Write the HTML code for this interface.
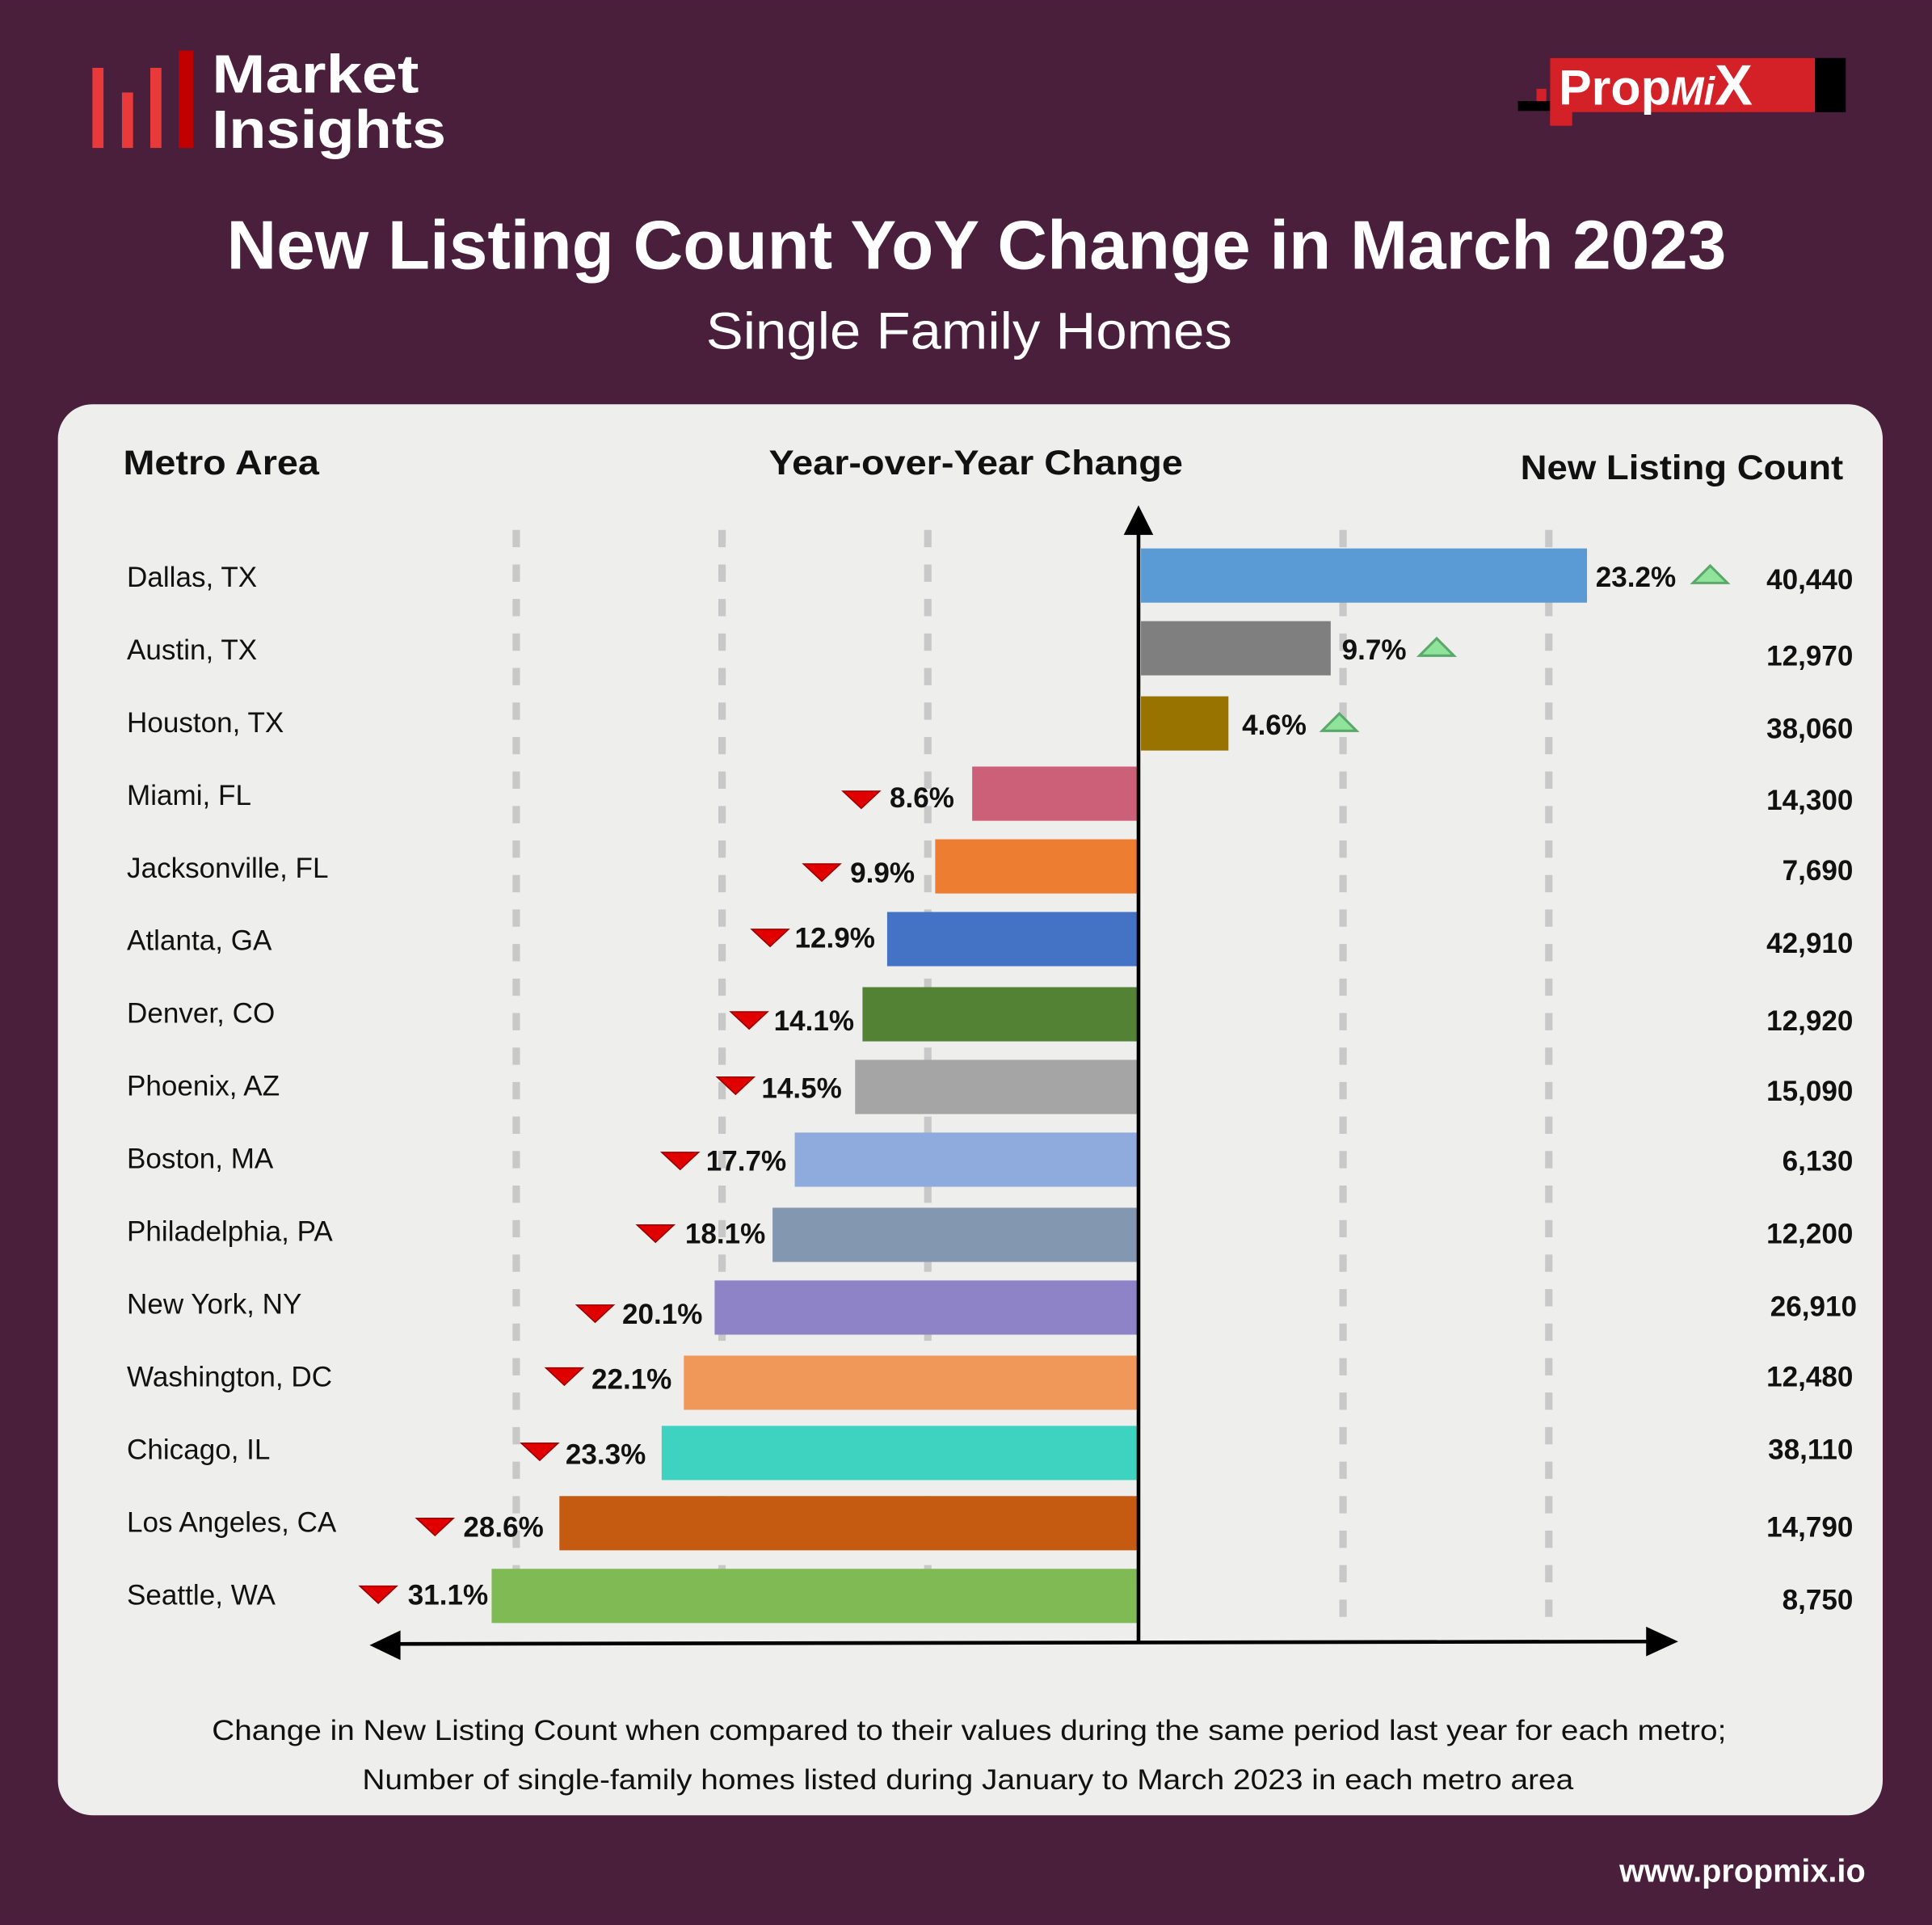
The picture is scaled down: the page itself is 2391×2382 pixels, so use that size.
<!DOCTYPE html>
<html><head><meta charset="utf-8"><style>
html,body{margin:0;padding:0;background:#4a1f3c;}
svg{display:block;}
text{font-family:"Liberation Sans","DejaVu Sans",sans-serif;}
</style></head><body>
<svg width="2391" height="2382" viewBox="0 0 1568 1562" xmlns="http://www.w3.org/2000/svg">
<rect width="1568" height="1562" fill="#4a1f3c"/>
<!-- logo -->
<rect x="75" y="55" width="9" height="65" fill="#e83a3a"/>
<rect x="99" y="75" width="9" height="45" fill="#e83a3a"/>
<rect x="122" y="55" width="9" height="65" fill="#e83a3a"/>
<rect x="145" y="41" width="12" height="79" fill="#c00000"/>
<text x="172" y="75" font-size="44" fill="#fff" font-weight="600" textLength="168" lengthAdjust="spacingAndGlyphs">Market</text>
<text x="172" y="120" font-size="44" fill="#fff" font-weight="600" textLength="190" lengthAdjust="spacingAndGlyphs">Insights</text>
<!-- propmix -->
<rect x="1232" y="82" width="30" height="8" fill="#000"/>
<rect x="1258" y="47" width="240" height="44" fill="#000"/>
<rect x="1258" y="47" width="215" height="44" fill="#d42027"/>
<rect x="1258" y="90" width="18" height="12" fill="#d42027"/>
<rect x="1247" y="72" width="8" height="10" fill="#d42027"/>
<text x="1265" y="85" font-size="40" fill="#fff" font-weight="bold">Prop<tspan font-style="italic" font-size="32">Mi</tspan><tspan font-size="46">X</tspan></text>
<!-- titles -->
<text x="184" y="218" font-size="56" fill="#fff" font-weight="bold" textLength="1217" lengthAdjust="spacingAndGlyphs">New Listing Count YoY Change in March 2023</text>
<text x="573" y="283" font-size="42" fill="#fff" textLength="427" lengthAdjust="spacingAndGlyphs">Single Family Homes</text>
<!-- card -->
<rect x="47" y="328" width="1481" height="1145" rx="28" fill="#eeeeed"/>
<text x="100" y="385" font-size="28" font-weight="bold" fill="#111" textLength="159" lengthAdjust="spacingAndGlyphs">Metro Area</text>
<text x="624" y="385" font-size="28" font-weight="bold" fill="#111" textLength="336" lengthAdjust="spacingAndGlyphs">Year-over-Year Change</text>
<text x="1234" y="389" font-size="28" font-weight="bold" fill="#111" textLength="262" lengthAdjust="spacingAndGlyphs">New Listing Count</text>
<!-- gridlines -->
<g stroke="#c8c8c8" stroke-width="6" stroke-dasharray="14 14">
<line x1="419" y1="430" x2="419" y2="1325"/>
<line x1="586" y1="430" x2="586" y2="1325"/>
<line x1="753" y1="430" x2="753" y2="1325"/>
<line x1="1090" y1="430" x2="1090" y2="1325"/>
<line x1="1257" y1="430" x2="1257" y2="1325"/>
</g>
<!-- bars -->
<rect x="926" y="445" width="362" height="44" fill="#5b9bd5"/>
<rect x="926" y="504" width="154" height="44" fill="#7f7f7f"/>
<rect x="926" y="565" width="71" height="44" fill="#997300"/>
<rect x="789" y="622" width="135" height="44" fill="#cc6079"/>
<rect x="759" y="681" width="165" height="44" fill="#ed7d31"/>
<rect x="720" y="740" width="204" height="44" fill="#4472c4"/>
<rect x="700" y="801" width="224" height="44" fill="#548235"/>
<rect x="694" y="860" width="230" height="44" fill="#a5a5a5"/>
<rect x="645" y="919" width="279" height="44" fill="#8faadc"/>
<rect x="627" y="980" width="297" height="44" fill="#8497b0"/>
<rect x="580" y="1039" width="344" height="44" fill="#8e83c6"/>
<rect x="555" y="1100" width="369" height="44" fill="#f0985a"/>
<rect x="537" y="1157" width="387" height="44" fill="#3ed3c0"/>
<rect x="454" y="1214" width="470" height="44" fill="#c55a11"/>
<rect x="399" y="1273" width="525" height="44" fill="#7fba55"/>
<!-- axes -->
<line x1="924" y1="428" x2="924" y2="1334" stroke="#000" stroke-width="3"/>
<polygon points="924,410 912,434 936,434" fill="#000"/>
<line x1="320" y1="1334" x2="1340" y2="1332" stroke="#000" stroke-width="3"/>
<polygon points="300,1335 325,1323 325,1347" fill="#000"/>
<polygon points="1362,1332 1336,1320 1336,1344" fill="#000"/>
<!-- metro labels -->
<g font-size="23" fill="#111">
<text x="103" y="476">Dallas, TX</text>
<text x="103" y="535">Austin, TX</text>
<text x="103" y="594">Houston, TX</text>
<text x="103" y="653">Miami, FL</text>
<text x="103" y="712">Jacksonville, FL</text>
<text x="103" y="771">Atlanta, GA</text>
<text x="103" y="830">Denver, CO</text>
<text x="103" y="889">Phoenix, AZ</text>
<text x="103" y="948">Boston, MA</text>
<text x="103" y="1007">Philadelphia, PA</text>
<text x="103" y="1066">New York, NY</text>
<text x="103" y="1125">Washington, DC</text>
<text x="103" y="1184">Chicago, IL</text>
<text x="103" y="1243">Los Angeles, CA</text>
<text x="103" y="1302">Seattle, WA</text>
</g>
<!-- counts -->
<g font-size="23" font-weight="bold" fill="#111" text-anchor="end">
<text x="1504" y="478">40,440</text>
<text x="1504" y="540">12,970</text>
<text x="1504" y="599">38,060</text>
<text x="1504" y="657">14,300</text>
<text x="1504" y="714">7,690</text>
<text x="1504" y="773">42,910</text>
<text x="1504" y="836">12,920</text>
<text x="1504" y="893">15,090</text>
<text x="1504" y="950">6,130</text>
<text x="1504" y="1009">12,200</text>
<text x="1507" y="1068">26,910</text>
<text x="1504" y="1125">12,480</text>
<text x="1504" y="1184">38,110</text>
<text x="1504" y="1247">14,790</text>
<text x="1504" y="1306">8,750</text>
</g>
<!-- pct positive -->
<g font-size="23" font-weight="bold" fill="#111">
<text x="1295" y="476">23.2%</text>
<text x="1089" y="535">9.7%</text>
<text x="1008" y="596">4.6%</text>
</g>
<g fill="#8fe39a" stroke="#5aa86a" stroke-width="2">
<polygon points="1388,459 1374,473 1402,473"/>
<polygon points="1166,518 1152,532 1180,532"/>
<polygon points="1087,579 1073,593 1101,593"/>
</g>
<!-- pct negative -->
<g font-size="23" font-weight="bold" fill="#111">
<text x="722" y="655">8.6%</text>
<text x="690" y="716">9.9%</text>
<text x="645" y="769">12.9%</text>
<text x="628" y="836">14.1%</text>
<text x="618" y="891">14.5%</text>
<text x="573" y="950">17.7%</text>
<text x="556" y="1009">18.1%</text>
<text x="505" y="1074">20.1%</text>
<text x="480" y="1127">22.1%</text>
<text x="459" y="1188">23.3%</text>
<text x="376" y="1247">28.6%</text>
<text x="331" y="1302">31.1%</text>
</g>
<g fill="#e00000" stroke="#900" stroke-width="1">
<polygon points="684,642 714,642 699,656"/>
<polygon points="652,701 682,701 667,715"/>
<polygon points="610,754 640,754 625,768"/>
<polygon points="593,821 623,821 608,835"/>
<polygon points="582,874 612,874 597,888"/>
<polygon points="537,935 567,935 552,949"/>
<polygon points="517,994 547,994 532,1008"/>
<polygon points="468,1059 498,1059 483,1073"/>
<polygon points="443,1110 473,1110 458,1124"/>
<polygon points="423,1171 453,1171 438,1185"/>
<polygon points="338,1232 368,1232 353,1246"/>
<polygon points="292,1287 322,1287 307,1301"/>
</g>
<!-- footer -->
<text x="172" y="1412" font-size="23" fill="#111" textLength="1229" lengthAdjust="spacingAndGlyphs">Change in New Listing Count when compared to their values during the same period last year for each metro;</text>
<text x="294" y="1452" font-size="23" fill="#111" textLength="983" lengthAdjust="spacingAndGlyphs">Number of single-family homes listed during January to March 2023 in each metro area</text>
<text x="1514" y="1527" font-size="26" font-weight="bold" fill="#fff" text-anchor="end">www.propmix.io</text>
</svg>
</body></html>
